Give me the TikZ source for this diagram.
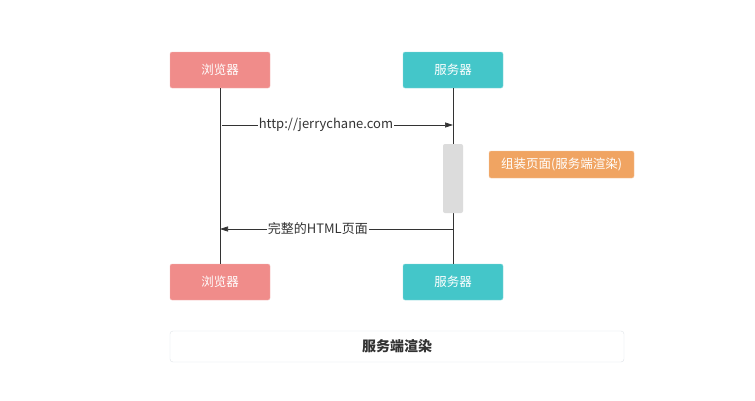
\documentclass[tikz,border=0pt]{standalone}
\usepackage{fontspec}
\setmainfont{Noto Sans CJK SC}
\usetikzlibrary{arrows.meta}
\definecolor{browserred}{HTML}{F08C8A}
\definecolor{serverteal}{HTML}{44C6C9}
\definecolor{notebrown}{HTML}{F0A462}
\definecolor{bargray}{HTML}{DCDCDC}
\definecolor{textgray}{HTML}{333333}
\definecolor{framegray}{HTML}{DFE3E8}
\tikzset{
  actor/.style={minimum width=100pt, minimum height=36pt, rounded corners=2pt, text=white, font=\fontsize{12.5}{14}\selectfont, inner sep=0pt},
  msg/.style={-{Triangle[length=8pt,width=5pt]}, textgray, line width=0.7pt},
  lbl/.style={fill=white, text=textgray, font=\fontsize{13}{15}\selectfont, inner sep=1pt}
}

\begin{document}
\begin{tikzpicture}[x=1pt, y=-1pt]
  \useasboundingbox (0,0) rectangle (755,400);
  \fill[white] (0,0) rectangle (755,400);
  \node[actor, fill=browserred, draw=browserred!60!white] (b1) at (220,70) {浏览器};
  \node[actor, fill=serverteal, draw=serverteal!60!white] (s1) at (453,70) {服务器};
  \node[actor, fill=browserred, draw=browserred!60!white] (b2) at (220,282) {浏览器};
  \node[actor, fill=serverteal, draw=serverteal!60!white] (s2) at (453,282) {服务器};
  \draw[textgray, line width=0.7pt] (b1) -- (b2);
  \draw[textgray, line width=0.7pt] (s1) -- (s2);
  \node[fill=bargray, rounded corners=2pt, minimum width=20pt, minimum height=69pt, inner sep=0pt] (bar) at (453,178.5) {};
  \node[fill=notebrown, draw=notebrown!60!white, rounded corners=2pt, minimum width=145pt, minimum height=27pt, inner sep=0pt, text=white, font=\fontsize{12.5}{14}\selectfont] (note) at (561.5,164.5) {组装页面(服务端渲染)};
  \coordinate (req0) at (222,125);
  \coordinate (req1) at (453,125);
  \coordinate (res0) at (453,229);
  \coordinate (res1) at (220,229);
  \draw[msg] (req0) -- node[lbl, pos=0.45] {http://jerrychane.com} (req1);
  \draw[msg] (res0) -- node[lbl, pos=0.58] {完整的HTML页面} (res1);
  \node[draw=framegray, rounded corners=3pt, minimum width=454pt, minimum height=31pt, inner sep=0pt, text=textgray, font=\fontsize{14}{16}\selectfont\bfseries] (title) at (397,346.5) {服务端渲染};
\end{tikzpicture}
\end{document}
